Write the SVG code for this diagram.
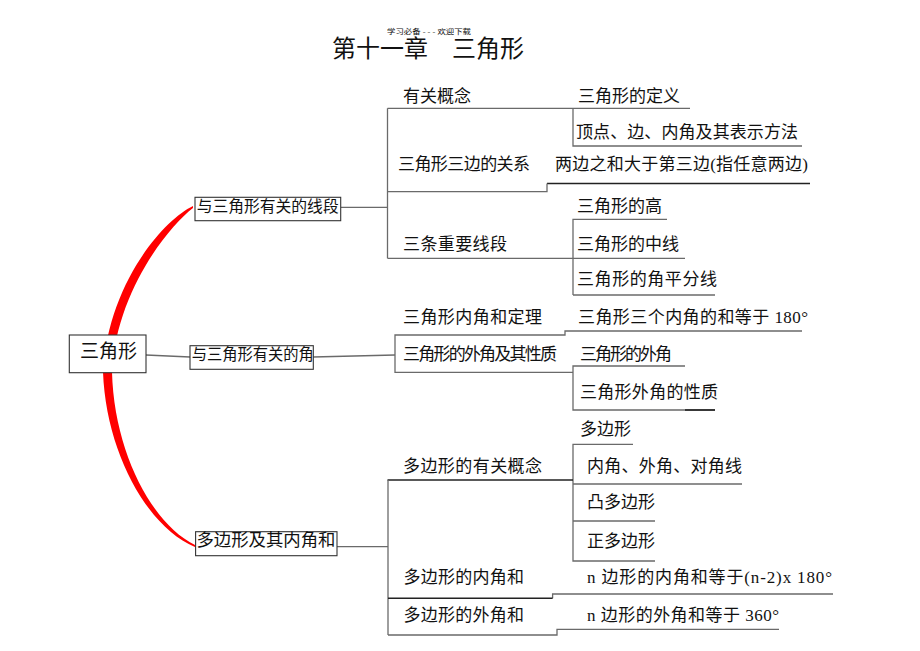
<svg xmlns="http://www.w3.org/2000/svg" width="920" height="651" viewBox="0 0 920 651">
<style>
text{font-family:"Liberation Serif","Noto Sans CJK SC",serif;fill:#111;}
.t{font-size:17px;}
.b{font-size:16px;}
.ln{stroke:#6a6a6a;stroke-width:1.3;fill:none;}
.dk{stroke:#222;stroke-width:1.6;fill:none;}
.box{fill:#fff;stroke:#333;stroke-width:1.1;}
</style>
<rect width="920" height="651" fill="#fff"/>

<g id="title">
<text x="332" y="57" style="font-size:24px">第十一章</text>
<text x="452" y="57" style="font-size:24px">三角形</text>
<text x="387" y="34" style="font-size:7px" textLength="84" lengthAdjust="spacingAndGlyphs">学习必备 - - - 欢迎下载</text>
</g>

<g id="connectors">
<path d="M193,206 C162,221 108,285 103,372 C106,452 147,527 195,547 L195,545 C152,524 114,452 112,372 C116,293 167,228 193,208 Z" fill="#f00"/>
<path class="ln" d="M146,355 L190,357"/>
<path class="ln" d="M313,357 L395,355"/>
<path class="ln" d="M341,207.3 L388,207.3"/>
<path class="ln" d="M337,546.7 L388,546.7"/>
<!-- group 1 -->
<path class="ln" d="M387.5,108.3 V258.3"/>
<path class="ln" d="M387.5,108.3 H690"/>
<path class="ln" d="M573,108.3 V146 H802"/>
<path class="dk" d="M547,183.5 H810"/>
<path class="ln" d="M547,183.5 V191.7 H387.5"/>
<path class="ln" d="M573,295 V219.3 H667"/>
<path class="ln" d="M387.5,258.3 H685"/>
<path class="ln" d="M573,295 H715"/>
<!-- group 2 -->
<path class="ln" d="M802,331 H565 V335 H395 V372.3 H573"/>
<path class="ln" d="M685,366 H573 V410 H715"/>
<path class="dk" d="M685,410 H715"/>
<!-- group 3 -->
<path class="ln" d="M633,444.3 H573 V561 H655"/>
<path class="dk" d="M387.5,480 H573"/>
<path class="ln" d="M573,484 H742"/>
<path class="ln" d="M573,521 H655"/>
<path class="ln" d="M388,480 V635"/>
<path class="ln" d="M833,594 H552.6 V598.3"/>
<path class="dk" d="M388,598.3 H552.6"/>
<path class="ln" d="M779,629.3 H557 V635 H388"/>
</g>

<g id="root">
<rect class="box" x="69.3" y="335" width="76.7" height="37.7"/>
<text x="80" y="357.5" style="font-size:19px" textLength="57">三角形</text>
</g>

<g id="seg">
<rect class="box" x="195" y="197.3" width="145.7" height="23.4"/>
<text class="b" x="196.7" y="212" textLength="142" lengthAdjust="spacingAndGlyphs">与三角形有关的线段</text>
</g>
<g id="ang">
<rect class="box" x="190" y="345.7" width="123.3" height="23.6"/>
<text class="b" x="191.7" y="360" textLength="122" lengthAdjust="spacingAndGlyphs">与三角形有关的角</text>
</g>
<g id="poly">
<rect class="box" x="195.6" y="531.7" width="141.4" height="24"/>
<text class="t" x="196.5" y="546" textLength="139" lengthAdjust="spacingAndGlyphs">多边形及其内角和</text>
</g>

<g id="n1"><text class="t" x="403" y="101.5">有关概念</text></g>
<g id="n2"><text class="t" x="578" y="101.5">三角形的定义</text></g>
<g id="n3"><text class="t" x="576" y="138" textLength="222">顶点、边、内角及其表示方法</text></g>
<g id="n4"><text class="t" x="398" y="170" textLength="132">三角形三边的关系</text></g>
<g id="n5"><text class="t" x="555" y="170" textLength="253">两边之和大于第三边(指任意两边)</text></g>
<g id="n6"><text class="t" x="577" y="211.5">三角形的高</text></g>
<g id="n7"><text class="t" x="403" y="250" textLength="104">三条重要线段</text></g>
<g id="n8"><text class="t" x="577" y="250">三角形的中线</text></g>
<g id="n9"><text class="t" x="577" y="285" textLength="140">三角形的角平分线</text></g>
<g id="n10"><text class="t" x="403" y="323" textLength="139">三角形内角和定理</text></g>
<g id="n11"><text class="t" x="578" y="323" textLength="230">三角形三个内角的和等于 180°</text></g>
<g id="n12"><text class="t" x="403" y="360" textLength="154">三角形的外角及其性质</text></g>
<g id="n13"><text class="t" x="580" y="360" textLength="92">三角形的外角</text></g>
<g id="n14"><text class="t" x="580" y="398" textLength="138">三角形外角的性质</text></g>
<g id="n15"><text class="t" x="580" y="435">多边形</text></g>
<g id="n16"><text class="t" x="403" y="471.5" textLength="139">多边形的有关概念</text></g>
<g id="n17"><text class="t" x="587" y="471.5" textLength="155">内角、外角、对角线</text></g>
<g id="n18"><text class="t" x="587" y="508">凸多边形</text></g>
<g id="n19"><text class="t" x="587" y="546.5">正多边形</text></g>
<g id="n20"><text class="t" x="403.6" y="583" textLength="120.4">多边形的内角和</text></g>
<g id="n21"><text class="t" x="587" y="583" textLength="245">n 边形的内角和等于(n-2)x 180°</text></g>
<g id="n22"><text class="t" x="403.6" y="621" textLength="120.4">多边形的外角和</text></g>
<g id="n23"><text class="t" x="587" y="621" textLength="192">n 边形的外角和等于 360°</text></g>
</svg>
